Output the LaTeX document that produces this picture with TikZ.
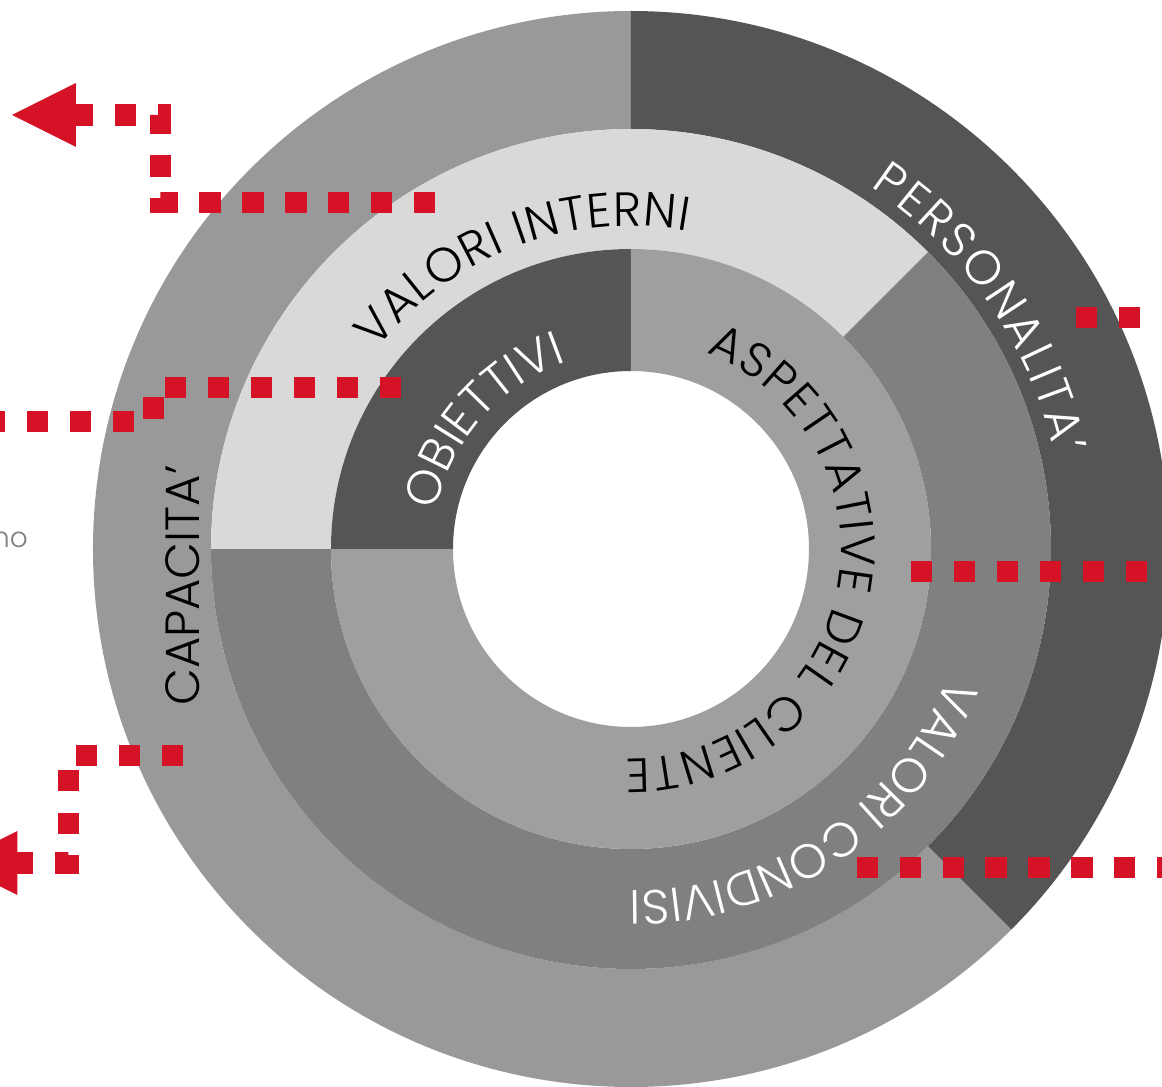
\documentclass[tikz,border=0pt]{standalone}
\usepackage{fontspec}
\IfFontExistsTF{Poppins Light}{\setmainfont{Poppins Light}}{\setmainfont{Poppins}}
\usetikzlibrary{decorations.text}
\definecolor{ringdark}{HTML}{555555}
\definecolor{ringmid}{HTML}{808080}
\definecolor{ringgray}{HTML}{999999}
\definecolor{ringsoft}{HTML}{9F9F9F}
\definecolor{ringlight}{HTML}{D9D9D9}
\definecolor{accentred}{RGB}{213,18,38}
\definecolor{notegray}{HTML}{7F7F7F}
\begin{document}
\begin{tikzpicture}[x=1pt,y=1pt,
  redpath/.style={draw=accentred, line width=21.3pt, dash pattern=on 21.3pt off 21.6pt, line cap=butt, line join=miter},
  redhead/.style={fill=accentred},
  bigfont/.style={font=\fontsize{48pt}{48pt}\selectfont}
]
\useasboundingbox (-631,-538) rectangle (531,549);
\fill[white] (-631,-538) rectangle (531,549);

% outer ring (420-538)
\fill[ringgray] (90:420) arc[start angle=90,end angle=315,radius=420] -- (315:538) arc[start angle=315,end angle=90,radius=538] -- cycle;
\fill[ringdark] (-45:420) arc[start angle=-45,end angle=90,radius=420] -- (90:538) arc[start angle=90,end angle=-45,radius=538] -- cycle;
% middle ring (300-420)
\fill[ringlight] (45:300) arc[start angle=45,end angle=180,radius=300] -- (180:420) arc[start angle=180,end angle=45,radius=420] -- cycle;
\fill[ringmid] (180:300) arc[start angle=180,end angle=405,radius=300] -- (405:420) arc[start angle=405,end angle=180,radius=420] -- cycle;
% inner ring (178-300)
\fill[ringdark] (90:178) arc[start angle=90,end angle=180,radius=178] -- (180:300) arc[start angle=180,end angle=90,radius=300] -- cycle;
\fill[ringsoft] (180:178) arc[start angle=180,end angle=450,radius=178] -- (450:300) arc[start angle=450,end angle=180,radius=300] -- cycle;

% curved labels
\path[decorate, decoration={text along path, text align=fit to path, text color=black,
  text={|\fontsize{48pt}{48pt}\selectfont|VALORI INTERNI}}]
  (142:323) arc[start angle=142,end angle=80,radius=323];
\path[decorate, decoration={text along path, text align=fit to path, text color=white,
  text={|\fontsize{48pt}{48pt}\selectfont|OBIETTIVI}}]
  (169:198) arc[start angle=169,end angle=109,radius=198];
\path[decorate, decoration={text along path, text align=fit to path, text color=black,
  text={|\fontsize{48pt}{48pt}\selectfont|ASPETTATIVE DEL CLIENTE}}]
  (69:210) arc[start angle=69,end angle=-91.5,radius=210];
\path[decorate, decoration={text along path, text align=fit to path, text color=white,
  text={|\fontsize{48pt}{48pt}\selectfont|PERSONALITA’}}]
  (56.5:434) arc[start angle=56.5,end angle=12.5,radius=434];
\path[decorate, decoration={text along path, text align=fit to path, text color=white,
  text={|\fontsize{48pt}{48pt}\selectfont|VALORI CONDIVISI}}]
  (-22:342) arc[start angle=-22,end angle=-90,radius=342];
\node[bigfont, rotate=90, anchor=base, inner sep=0pt] (capacita) at (-431,-36.5) {CAPACITA’};

\node[font=\fontsize{28pt}{28pt}\selectfont, text=notegray, anchor=base east, inner sep=0pt] (notefrag) at (-603,2) {no};

% red connectors
\coordinate (tlA) at (-195.7,346.8);
\coordinate (tlB) at (-470.5,346.8);
\coordinate (tlC) at (-470.5,434);
\coordinate (tlD) at (-555,434);
\coordinate (tlTip) at (-619,434);
\coordinate (tlU) at (-555,466);
\coordinate (tlL) at (-555,402);
\draw[redpath] (tlA) -- (tlB) -- (tlC) -- (tlD);
\fill[redhead] (tlTip) -- (tlU) -- (tlL) -- cycle;

\coordinate (mlA) at (-230,161.2);
\coordinate (mlB) at (-477.8,161.2);
\coordinate (mlC) at (-477.8,127.8);
\coordinate (mlD) at (-631,127.8);
\draw[redpath] (mlA) -- (mlB) -- (mlC) -- (mlD);

\coordinate (blA) at (-447.7,-206.5);
\coordinate (blB) at (-562.3,-206.5);
\coordinate (blC) at (-562.3,-314);
\coordinate (blD) at (-613.7,-314);
\coordinate (blTip) at (-677.7,-314);
\coordinate (blU) at (-613.7,-282);
\coordinate (blL) at (-613.7,-346);
\draw[redpath] (blA) -- (blB) -- (blC) -- (blD);
\fill[redhead] (blTip) -- (blU) -- (blL) -- cycle;

\coordinate (rA1) at (445,231.8);
\coordinate (rA2) at (531,231.8);
\draw[redpath] (rA1) -- (rA2);
\coordinate (rB1) at (280,-22.5);
\coordinate (rB2) at (531,-22.5);
\draw[redpath] (rB1) -- (rB2);
\coordinate (rC1) at (225.7,-318.5);
\coordinate (rC2) at (531,-318.5);
\draw[redpath] (rC1) -- (rC2);
\end{tikzpicture}
\end{document}
